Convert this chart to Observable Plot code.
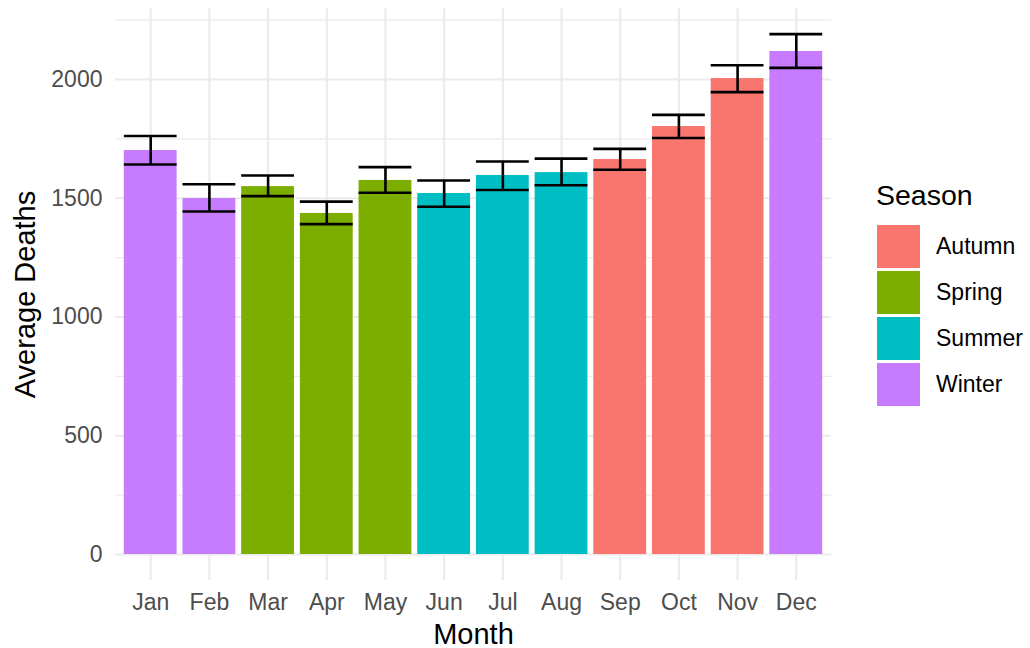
<!DOCTYPE html>
<html>
<head>
<meta charset="utf-8">
<script src="https://cdn.jsdelivr.net/npm/d3@7"></script>
<script src="https://cdn.jsdelivr.net/npm/@observablehq/plot@0.6"></script>
<style>
  html, body { margin: 0; padding: 0; background: #fff; }
  #wrap { position: relative; width: 1030px; height: 648px; font-family: "Liberation Sans", Arial, sans-serif; }
  #legend { position: absolute; left: 876px; top: 178px; color: #000; }
  #legend .title { font-size: 28.5px; line-height: 34px; height: 45px; }
  #legend .row { display: flex; align-items: center; height: 46px; }
  #legend .key { width: 43px; height: 43px; margin-left: 1px; margin-right: 16px; }
  #legend .lab { font-size: 23px; }
</style>
</head>
<body>
<div id="wrap"></div>
<script>
const months = ["Jan","Feb","Mar","Apr","May","Jun","Jul","Aug","Sep","Oct","Nov","Dec"];
const seasons = ["Winter","Winter","Spring","Spring","Spring","Summer","Summer","Summer","Autumn","Autumn","Autumn","Winter"];
const meanDeaths = [1701, 1499, 1549, 1436, 1575, 1520, 1596, 1608, 1663, 1802, 2004, 2118];
const lowerDeaths = [1642, 1444, 1509, 1391, 1523, 1464, 1535, 1555, 1620, 1754, 1947, 2049];
const upperDeaths = [1762, 1559, 1596, 1486, 1631, 1575, 1655, 1667, 1708, 1851, 2060, 2191];
const seasonNames = ["Autumn","Spring","Summer","Winter"];
const seasonColors = ["#F8766D","#7CAE00","#00BFC4","#C77CFF"];
const majorTicks = [0, 500, 1000, 1500, 2000];
const minorTicks = [250, 750, 1250, 1750, 2250];

const data = months.map((m, i) => ({month: m, season: seasons[i], mean: meanDeaths[i], lo: lowerDeaths[i], hi: upperDeaths[i]}));

const font = "Liberation Sans, Arial, sans-serif";
const chart = Plot.plot({
  width: 1030,
  height: 648,
  marginLeft: 115,
  marginRight: 199,
  marginTop: 8,
  marginBottom: 68,
  style: {fontFamily: font, background: "#fff"},
  x: {type: "band", domain: months, paddingInner: 0.1, paddingOuter: 0.15, align: 0.5, round: false, label: null},
  y: {domain: [-109.5, 2299], label: null},
  color: {domain: seasonNames, range: seasonColors},
  marks: [
    Plot.ruleY(minorTicks, {stroke: "#ebebeb", strokeWidth: 1.1}),
    Plot.ruleY(majorTicks, {stroke: "#ebebeb", strokeWidth: 2.1}),
    Plot.ruleX(months, {x: d => d, stroke: "#ebebeb", strokeWidth: 2.1}),
    Plot.barY(data, {x: "month", y1: 0, y2: "mean", fill: "season"}),
    Plot.ruleX(data, {x: "month", y1: "lo", y2: "hi", stroke: "#000", strokeWidth: 2.6}),
    Plot.tickY(data, {x: "month", y: "lo", stroke: "#000", strokeWidth: 2.6}),
    Plot.tickY(data, {x: "month", y: "hi", stroke: "#000", strokeWidth: 2.6}),
    Plot.axisX({tickSize: 0, tickPadding: 13.5, fontSize: 23, color: "#4d4d4d", label: null}),
    Plot.axisY(majorTicks, {tickSize: 0, tickPadding: 13, fontSize: 23, color: "#4d4d4d", label: null, tickFormat: d => String(d)}),
    Plot.text(["Month"], {frameAnchor: "bottom", dy: 63, lineAnchor: "bottom", textAnchor: "middle", fontSize: 29, fill: "#000"}),
    Plot.text(["Average Deaths"], {frameAnchor: "left", dx: -81, rotate: -90, lineAnchor: "bottom", textAnchor: "middle", fontSize: 29, fill: "#000"})
  ]
});

const wrap = document.getElementById("wrap");
wrap.appendChild(chart);

const legend = document.createElement("div");
legend.id = "legend";
const t = document.createElement("div");
t.className = "title";
t.textContent = "Season";
legend.appendChild(t);
seasonNames.forEach((s, i) => {
  const row = document.createElement("div");
  row.className = "row";
  const k = document.createElement("div");
  k.className = "key";
  k.style.background = seasonColors[i];
  const l = document.createElement("div");
  l.className = "lab";
  l.textContent = s;
  row.appendChild(k);
  row.appendChild(l);
  legend.appendChild(row);
});
wrap.appendChild(legend);
</script>
</body>
</html>
